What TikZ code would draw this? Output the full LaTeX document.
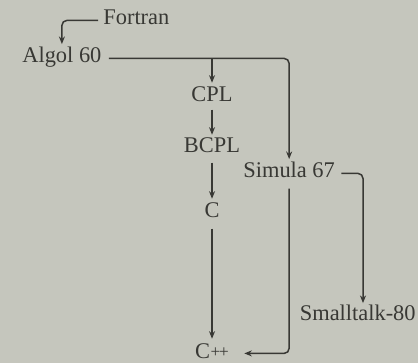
\documentclass[tikz,border=0pt]{standalone}
\usepackage{fontspec}
\setmainfont{Liberation Serif}
\usetikzlibrary{arrows.meta}
\definecolor{paper}{RGB}{197,198,189}
\definecolor{ink}{RGB}{56,56,52}
\begin{document}
\begin{tikzpicture}[x=0.5pt,y=-0.5pt,
  lang/.style={inner sep=0pt, text=ink, font=\fontsize{11.2}{13}\selectfont},
  link/.style={draw=ink, line width=0.75pt, rounded corners=2.5pt,
    -{Stealth[length=3.8pt,width=3pt]}},
]
\fill[paper] (0,0) rectangle (418,363);
\useasboundingbox (0,0) rectangle (418,363);

% languages
\node[lang, anchor=base west] (fortran) at (103,25) {Fortran};
\node[lang, anchor=base west] (algol) at (22,63) {Algol 60};
\node[lang, anchor=base] (cpl) at (212,102) {CPL};
\node[lang, anchor=base] (bcpl) at (212,153) {BCPL};
\node[lang, anchor=base west] (simula) at (243,178) {Simula 67};
\node[lang, anchor=base] (c) at (212,218) {C};
\node[lang, anchor=base east] (smalltalk) at (416,321) {Smalltalk-80};
\node[lang, anchor=base] (cpp) at (212,358) {C\kern0.3pt\raisebox{0.4pt}{\fontsize{8.6}{9}\selectfont+\kern-0.6pt+}};
\coordinate (stdrop) at (363,0);

% lineage
\draw[link] ([xshift=-2.5pt]fortran.mid west) -| ([yshift=1.5pt]algol.north);
\draw[link] ([xshift=3.5pt]algol.mid east) -| ([yshift=1.5pt]simula.north);
\draw[link] (cpl.north |- algol.mid east) -- ([yshift=2pt]cpl.north);
\draw[link, shorten <=3.5pt] (cpl.south) -- ([yshift=1.5pt]bcpl.north);
\draw[link, shorten <=4.5pt] (bcpl.south) -- ([yshift=2pt]c.north);
\draw[link, shorten <=5pt] (c.south) -- ([yshift=2pt]cpp.north);
\draw[link] ([xshift=3pt]simula.mid east) -| ([yshift=1pt]stdrop |- smalltalk.north);
\draw[link] ([yshift=-5pt]simula.south) |- ([xshift=7.5pt]cpp.mid east);
\end{tikzpicture}
\end{document}
